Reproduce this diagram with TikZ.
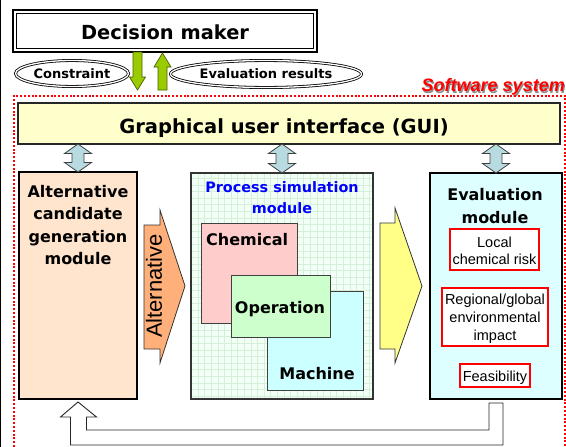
\documentclass[tikz,border=0pt]{standalone}
\usepackage{fontspec}
\setmainfont{Liberation Sans}
\newfontfamily\dejavu{DejaVu Sans}
\usetikzlibrary{calc,shapes.geometric}

\definecolor{guifill}{RGB}{255,255,204}
\definecolor{altfill}{RGB}{255,229,206}
\definecolor{simfill}{RGB}{242,255,246}
\definecolor{gridcol}{RGB}{214,239,216}
\definecolor{chemfill}{RGB}{255,204,204}
\definecolor{opfill}{RGB}{204,255,204}
\definecolor{machfill}{RGB}{204,255,255}
\definecolor{evalfill}{RGB}{222,255,255}
\definecolor{arrowgreen}{RGB}{153,204,0}
\definecolor{greenedge}{RGB}{76,96,0}
\definecolor{linkblue}{RGB}{183,219,224}
\definecolor{altorange}{RGB}{255,176,122}
\definecolor{passyellow}{RGB}{255,255,136}
\definecolor{sysred}{RGB}{255,0,0}
\definecolor{titleblue}{RGB}{0,0,255}

\begin{document}
\begin{tikzpicture}[x=1pt,y=-1pt,
  box/.style={inner sep=0pt, outer sep=0pt},
  boldtext/.style={inner sep=0pt, align=center, font=\dejavu\bfseries\fontsize{16}{22.3}\selectfont},
  plaintext/.style={inner sep=0pt, align=center, font=\fontsize{14.5}{17.5}\selectfont},
  oval/.style={ellipse, draw=black, double=white, double distance=1.3pt, line width=0.8pt, inner sep=0pt},
  greenarrow/.style={fill=arrowgreen, draw=greenedge, line width=0.7pt, line join=miter},
  linkarrow/.style={fill=linkblue, draw=black!75, line width=0.8pt, line join=miter},
  blockarrow/.style={draw=black!80, line width=0.8pt, line join=miter},
  redbox/.style={box, draw=sysred, line width=1.5pt, fill=white},
  layer/.style={box, draw=black!75, line width=0.9pt},
]
\useasboundingbox (0,0) rectangle (566,447);

% edge line along the left border
\draw[line width=1.4pt] (0.7,0) -- (0.7,447);

% decision maker
\node[box, draw, line width=2.8pt, minimum width=304, minimum height=42] (dm) at (165,31) {};
\draw[line width=0.7pt] ($(dm.north west)+(3.5,3.5)$) rectangle ($(dm.south east)+(-3.5,-3.5)$);
\node[anchor=base, inner sep=0pt, font=\dejavu\bfseries\fontsize{19.4}{22}\selectfont] (dmtext) at (165,39) {Decision maker};

% constraint and evaluation results
\coordinate (down) at ($(dm.south)+(-27.5,0)$);
\coordinate (up) at ($(dm.south)+(-2.5,0)$);
\draw[greenarrow] ($(down)+(-4.5,0)$) -- ($(down)+(4.5,0)$) -- ($(down)+(4.5,25)$) -- ($(down)+(8,25)$)
  -- ($(down)+(0,38)$) -- ($(down)+(-8,25)$) -- ($(down)+(-4.5,25)$) -- cycle;
\draw[greenarrow] ($(up)+(-4.5,38)$) -- ($(up)+(4.5,38)$) -- ($(up)+(4.5,15)$) -- ($(up)+(8.5,15)$)
  -- ($(up)+(0,1)$) -- ($(up)+(-8.5,15)$) -- ($(up)+(-4.5,15)$) -- cycle;

\node[oval, minimum width=113, minimum height=26] (con) at (72,73.5) {};
\node[anchor=base, inner sep=0pt, font=\dejavu\bfseries\fontsize{13}{15}\selectfont] (context) at (72,78) {Constraint};
\node[oval, minimum width=191, minimum height=27] (res) at (266,74) {};
\node[anchor=base, inner sep=0pt, font=\dejavu\bfseries\fontsize{13}{15}\selectfont] (restext) at (266,78) {Evaluation results};

% software system frame
\node[anchor=base east, inner sep=0pt, text=black!45, font=\bfseries\itshape\fontsize{18}{20}\selectfont] (sysshadow) at (566.2,93.2) {Software system};
\node[anchor=base east, inner sep=0pt, text=sysred, font=\bfseries\itshape\fontsize{18}{20}\selectfont] (systext) at (565,92) {Software system};
\draw[sysred, line width=2pt, dash pattern=on 2pt off 1.8pt] (14,447) -- (14,96) -- (565,96) -- (565,447);

% graphical user interface
\node[box, draw=black!85, line width=1.3pt, fill=guifill, minimum width=542, minimum height=41] (gui) at (289,123.5) {};
\node[anchor=base, inner sep=0pt, font=\dejavu\bfseries\fontsize{19.5}{22}\selectfont] (guitext) at (284,133) {Graphical user interface (GUI)};

% alternative candidate generation module
\node[box, draw, line width=2pt, fill=altfill, minimum width=118, minimum height=227] (alt) at (78,285.5) {};
\node[boldtext] (alttitle) at (78,225) {Alternative\\candidate\\generation\\module};

% process simulation module
\node[box, fill=simfill, minimum width=182, minimum height=226] (psm) at (282,286) {};
\begin{scope}
  \clip (psm.south west) rectangle (psm.north east);
  \draw[gridcol, line width=0.5pt, step=6.6pt] ($(psm.south west)+(-10,10)$) grid ($(psm.north east)+(10,-10)$);
\end{scope}
\draw[black!80, line width=1.3pt] (psm.south west) rectangle (psm.north east);
\node[boldtext, text=titleblue, font=\dejavu\bfseries\fontsize{14.4}{21}\selectfont] (psmtitle) at (282,197.5) {Process simulation\\module};

\node[layer, fill=chemfill, minimum width=96, minimum height=100] (chem) at (249,273) {};
\node[anchor=base west, inner sep=0pt, font=\dejavu\bfseries\fontsize{16}{18}\selectfont] (chemtext) at (206,245) {Chemical};
\node[layer, fill=machfill, minimum width=96, minimum height=99] (mach) at (315,340.5) {};
\node[anchor=base, inner sep=0pt, font=\dejavu\bfseries\fontsize{16}{18}\selectfont] (machtext) at (317,379) {Machine};
\node[layer, fill=opfill, minimum width=99, minimum height=62] (oper) at (280.5,306) {};
\node[anchor=base, inner sep=0pt, font=\dejavu\bfseries\fontsize{16}{18}\selectfont] (opertext) at (280,313) {Operation};

% evaluation module
\node[box, draw, line width=2.5pt, fill=evalfill, minimum width=132, minimum height=226] (evm) at (496,286) {};
\node[boldtext] (evmtitle) at (495,206) {Evaluation\\module};
\node[redbox, minimum width=89, minimum height=41] (risk) at (494.5,249.5) {};
\node[plaintext] (risktext) at (494.5,251) {Local\\chemical risk};
\node[redbox, minimum width=106, minimum height=58] (impact) at (495,317) {};
\node[plaintext, font=\fontsize{14.5}{18}\selectfont] (impacttext) at (495,318.5) {Regional/global\\environmental\\impact};
\node[redbox, minimum width=70, minimum height=23] (feas) at (495,375.5) {};
\node[anchor=base, inner sep=0pt, font=\fontsize{14.5}{17}\selectfont] (feastext) at (495,381) {Feasibility};

% links between the interface and the modules
\foreach \m in {alt,psm,evm} {
  \coordinate (top-\m) at (gui.south -| \m.north);
  \draw[linkarrow] (top-\m) -- ($(top-\m)+(13.5,9.5)$) -- ($(top-\m)+(6,9.5)$) -- ($(\m.north)+(6,-9.5)$)
    -- ($(\m.north)+(13.5,-9.5)$) -- (\m.north) -- ($(\m.north)+(-13.5,-9.5)$) -- ($(\m.north)+(-6,-9.5)$)
    -- ($(top-\m)+(-6,9.5)$) -- ($(top-\m)+(-13.5,9.5)$) -- cycle;
}

% alternative passed to the simulation
\draw[blockarrow, fill=altorange] (144,225) -- (160,225) -- (160,210) -- (185,286) -- (160,363) -- (160,349) -- (144,349) -- cycle;
\node[rotate=90, inner sep=0pt, font=\fontsize{22}{24}\selectfont] (altlabel) at (154,286) {Alternative};

% simulation results passed to the evaluation
\draw[blockarrow, fill=passyellow] (380,223) -- (395,223) -- (395,208) -- (422,286) -- (395,363) -- (395,349) -- (380,349) -- cycle;

% feedback from evaluation to alternative generation
\draw[black!85, line width=0.9pt, fill=white, line join=miter]
  ($(evm.south)+(7,4)$) -- ($(evm.south)+(7,46)$) -- ($(alt.south)+(-7.5,46)$) -- ($(alt.south)+(-7.5,18)$)
  -- ($(alt.south)+(-17.5,18)$) -- ($(alt.south)+(0,3)$) -- ($(alt.south)+(18.5,18)$) -- ($(alt.south)+(8.5,18)$)
  -- ($(alt.south)+(8.5,31)$) -- ($(evm.south)+(-7,31)$) -- ($(evm.south)+(-7,4)$) -- cycle;
\end{tikzpicture}
\end{document}
